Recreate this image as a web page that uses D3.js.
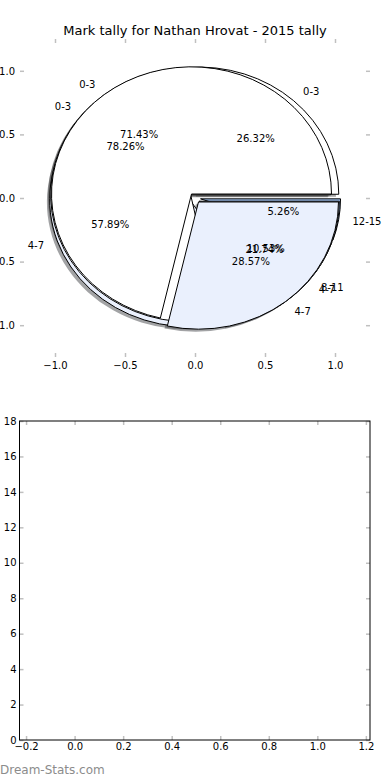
<!DOCTYPE html>
<html>
<head>
<meta charset="utf-8">
<script src="https://cdn.jsdelivr.net/npm/d3@7"></script>
<style>
  body { margin: 0; background: #fff; }
  text { font-family: "DejaVu Sans", sans-serif; }
</style>
</head>
<body>
<script>
// three tallies drawn on top of each other (bottom first)
var labelsC = ["0-3", "4-7", "8-11", "12-15"],
    valuesC = [5, 11, 2, 1];
var labelsB = ["0-3", "4-7"],
    valuesB = [18, 5];
var labelsA = ["0-3", "4-7"],
    valuesA = [5, 2];
var pieColors = ["#ffffff", "#eaf0fd", "#c9daf8", "#9fc0ee"];

var pieTicks = [-1.0, -0.5, 0.0, 0.5, 1.0];
var barXTicks = [-0.2, 0.0, 0.2, 0.4, 0.6, 0.8, 1.0, 1.2];
var barYTicks = [0, 2, 4, 6, 8, 10, 12, 14, 16, 18];

var explode = 0.04;

var svg = d3.select("body").append("svg")
    .attr("width", 390)
    .attr("height", 780);

var fmtTick = function(d) { return d3.format(".1f")(d).replace("-", "\u2212"); };

// ---------- top: pie axes ----------
var x = d3.scaleLinear().domain([-1.25, 1.25]).range([20, 370]);
var y = d3.scaleLinear().domain([-1.25, 1.25]).range([357, 39]);
var kx = x(1) - x(0), ky = y(0) - y(1);

svg.append("text")
    .attr("x", 195).attr("y", 34.5)
    .attr("text-anchor", "middle")
    .style("font-size", "13px")
    .text("Mark tally for Nathan Hrovat - 2015 tally");

function styleAxis(g) {
  g.select(".domain").remove();
  g.selectAll(".tick line").attr("stroke", "#c0c0c0").attr("stroke-width", 1.5);
  g.selectAll(".tick text").attr("fill", "#000").style("font-size", "10px")
    .style("font-family", "DejaVu Sans");
}

svg.append("g").attr("transform", "translate(0,357)")
    .call(d3.axisBottom(x).tickValues(pieTicks).tickSize(-4).tickPadding(5).tickFormat(fmtTick))
    .call(styleAxis);
svg.append("g").attr("transform", "translate(0,39)")
    .call(d3.axisTop(x).tickValues(pieTicks).tickSize(-4).tickFormat(""))
    .call(styleAxis);
svg.append("g").attr("transform", "translate(20,0)")
    .call(d3.axisLeft(y).tickValues(pieTicks).tickSize(-4).tickPadding(5).tickFormat(fmtTick))
    .call(styleAxis);
svg.append("g").attr("transform", "translate(370,0)")
    .call(d3.axisRight(y).tickValues(pieTicks).tickSize(-4).tickFormat(""))
    .call(styleAxis);

var pie = d3.pie().sort(null).startAngle(0).endAngle(2 * Math.PI);

function wedgePath(cx, cy, t0, t1) {
  var p0 = [x(cx + Math.cos(t0)), y(cy + Math.sin(t0))],
      p1 = [x(cx + Math.cos(t1)), y(cy + Math.sin(t1))],
      large = (t1 - t0) > Math.PI ? 1 : 0;
  return "M" + x(cx) + "," + y(cy) + "L" + p0 + "A" + kx + "," + ky + " 0 " + large + " 0 " + p1 + "Z";
}

var tallies = [
  {labels: labelsC, values: valuesC},
  {labels: labelsB, values: valuesB},
  {labels: labelsA, values: valuesA}
];

tallies.forEach(function(t) {
  var total = d3.sum(t.values);
  t.arcs = pie(t.values).map(function(d, i) {
    var mid = (d.startAngle + d.endAngle) / 2;
    return {
      t0: d.startAngle, t1: d.endAngle, mid: mid,
      cx: explode * Math.cos(mid), cy: explode * Math.sin(mid),
      label: t.labels[i],
      pct: d3.format(".2f")(t.values[i] / total * 100) + "%",
      color: pieColors[i]
    };
  });
});

var pieG = svg.append("g");

// shadows sit under every wedge
tallies.forEach(function(t) {
  t.arcs.forEach(function(a) {
    var c = d3.rgb(a.color);
    pieG.append("path")
      .attr("d", wedgePath(a.cx - 0.02, a.cy - 0.02, a.t0, a.t1))
      .attr("fill", d3.rgb(c.r * 0.3, c.g * 0.3, c.b * 0.3))
      .attr("fill-opacity", 0.5);
  });
});

tallies.forEach(function(t) {
  t.arcs.forEach(function(a) {
    pieG.append("path")
      .attr("d", wedgePath(a.cx, a.cy, a.t0, a.t1))
      .attr("fill", a.color)
      .attr("stroke", "#000")
      .attr("stroke-width", 1)
      .attr("stroke-linejoin", "round");
  });
});

tallies.forEach(function(t) {
  t.arcs.forEach(function(a) {
    var lx = a.cx + 1.1 * Math.cos(a.mid), ly = a.cy + 1.1 * Math.sin(a.mid);
    pieG.append("text")
      .attr("x", x(lx)).attr("y", y(ly))
      .attr("dy", "0.35em")
      .attr("text-anchor", lx > 0 ? "start" : "end")
      .style("font-size", "10px")
      .text(a.label);
    var px = a.cx + 0.6 * Math.cos(a.mid), py = a.cy + 0.6 * Math.sin(a.mid);
    pieG.append("text")
      .attr("x", x(px)).attr("y", y(py))
      .attr("dy", "0.35em")
      .attr("text-anchor", "middle")
      .style("font-size", "10px")
      .text(a.pct);
  });
});

// ---------- bottom: empty bar axes ----------
var bx = d3.scaleLinear().domain([-0.227, 1.217]).range([19.5, 370]);
var by = d3.scaleLinear().domain([0, 18]).range([740, 421]);

svg.append("g").attr("transform", "translate(0,740)")
    .call(d3.axisBottom(bx).tickValues(barXTicks).tickSize(-4).tickPadding(3).tickFormat(fmtTick))
    .call(styleAxis);
svg.append("g").attr("transform", "translate(0,421)")
    .call(d3.axisTop(bx).tickValues(barXTicks).tickSize(-4).tickFormat(""))
    .call(styleAxis);
svg.append("g").attr("transform", "translate(19.5,0)")
    .call(d3.axisLeft(by).tickValues(barYTicks).tickSize(-4).tickPadding(3).tickFormat(d3.format("d")))
    .call(styleAxis);
svg.append("g").attr("transform", "translate(370,0)")
    .call(d3.axisRight(by).tickValues(barYTicks).tickSize(-4).tickFormat(""))
    .call(styleAxis);

svg.append("rect")
    .attr("x", 19.5).attr("y", 421)
    .attr("width", 370 - 19.5).attr("height", 740 - 421)
    .attr("fill", "none")
    .attr("stroke", "#000")
    .attr("stroke-width", 1);

svg.append("text")
    .attr("x", 0).attr("y", 774)
    .style("font-size", "12px")
    .attr("fill", "#8c8c8c")
    .text("Dream-Stats.com");
</script>
</body>
</html>
